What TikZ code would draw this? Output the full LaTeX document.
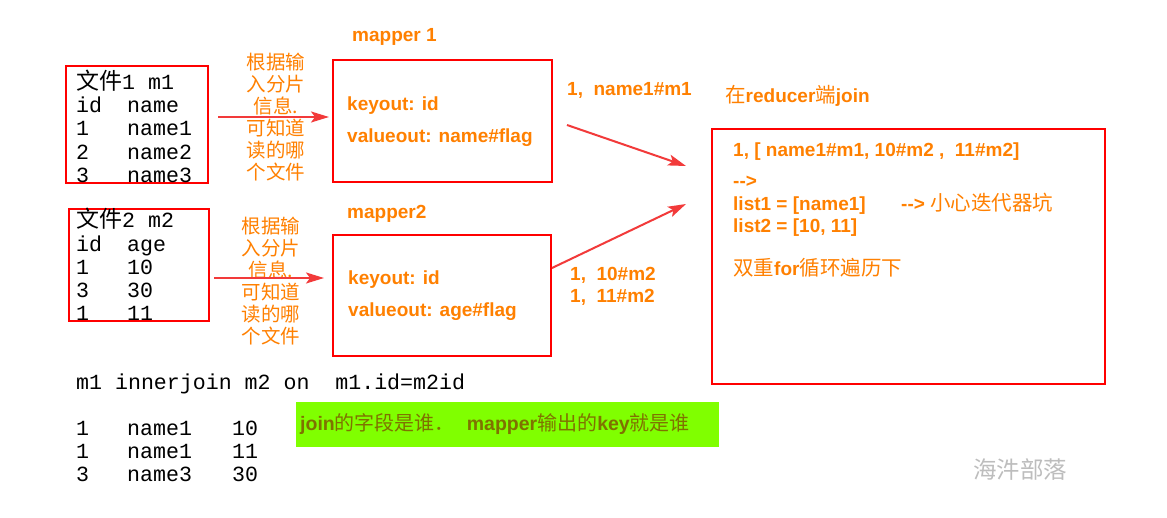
\documentclass[tikz,border=0pt]{standalone}
\usepackage{fontspec}
\setmainfont{Liberation Sans}
\newfontfamily\monof{Liberation Mono}
\newfontfamily\cjk{Noto Sans CJK SC}
\usetikzlibrary{arrows.meta}
\definecolor{boxred}{HTML}{FF0000}
\definecolor{arrred}{HTML}{F23A3A}
\definecolor{orng}{HTML}{FF8000}
\definecolor{limeg}{HTML}{80FF00}
\definecolor{oliv}{HTML}{7F7200}
\definecolor{wmgray}{HTML}{BDBDBD}
\newcommand\zhc[1]{{\cjk\mdseries\fontsize{20.5}{22}\selectfont #1}}
\newcommand\zhg[1]{{\cjk\mdseries\fontsize{20}{22}\selectfont #1}}
\newcommand\zhm[1]{{\cjk\fontsize{23}{23}\selectfont #1}}
\tikzset{
  redbox/.style={draw=boxred, line width=2pt},
  arr/.style={draw=arrred, line width=2pt, -{Stealth[length=18pt,width=11pt,inset=4pt]}},
  mono/.style={anchor=west, inner sep=0pt, text height=19pt, text depth=4pt, font=\monof\fontsize{21.6}{23}\selectfont},
  otext/.style={anchor=west, inner sep=0pt, text height=14pt, text depth=4pt, text=orng, font=\bfseries\fontsize{19}{22}\selectfont},
  zlabel/.style={anchor=north, inner sep=0pt, align=center, text=orng, font=\cjk\fontsize{19.5}{22}\selectfont},
}
\begin{document}
\begin{tikzpicture}[x=1pt,y=-1pt]
\useasboundingbox[fill=white] (0,0) rectangle (1167,518);
% boxes
\draw[redbox] (66,66) rectangle (208,183);
\draw[redbox] (69,209) rectangle (209,321);
\draw[redbox] (333,60) rectangle (552,182);
\draw[redbox] (333,235) rectangle (551,356);
\draw[redbox] (712,129) rectangle (1105,384);
\fill[limeg] (296,402) rectangle (719,447);
% file 1
\node[mono] (f1h) at (76,82) {\zhm{文件}1 m1};
\node[mono] (f1a) at (76,105) {id};
\node[mono] (f1b) at (127,105) {name};
\node[mono] (f1c) at (76,128) {1};
\node[mono] (f1d) at (127,128) {name1};
\node[mono] (f1e) at (76,152) {2};
\node[mono] (f1f) at (127,152) {name2};
\node[mono] (f1g) at (76,175) {3};
\node[mono] (f1i) at (127,175) {name3};
% file 2
\node[mono] (f2h) at (76,220) {\zhm{文件}2 m2};
\node[mono] (f2a) at (76,244) {id};
\node[mono] (f2b) at (127,244) {age};
\node[mono] (f2c) at (76,267) {1};
\node[mono] (f2d) at (127,267) {10};
\node[mono] (f2e) at (76,290) {3};
\node[mono] (f2f) at (127,290) {30};
\node[mono] (f2g) at (76,313) {1};
\node[mono] (f2i) at (127,313) {11};
% bottom
\node[mono] (q) at (76,382) {m1 innerjoin m2 on\ \ m1.id=m2id};
\node[mono] (r1a) at (76,428) {1};
\node[mono] (r1b) at (127,428) {name1};
\node[mono] (r1c) at (232,428) {10};
\node[mono] (r2a) at (76,451) {1};
\node[mono] (r2b) at (127,451) {name1};
\node[mono] (r2c) at (232,451) {11};
\node[mono] (r3a) at (76,474) {3};
\node[mono] (r3b) at (127,474) {name3};
\node[mono] (r3c) at (232,474) {30};
% chinese labels
\node[zlabel] (lab1) at (276,53) {根据输\\入分片\\信息.\\可知道\\读的哪\\个文件};
\node[zlabel] (lab2) at (271,217) {根据输\\入分片\\信息.\\可知道\\读的哪\\个文件};
% arrows file -> mapper
\coordinate (a1s) at (218,117);
\coordinate (a1e) at (329,117);
\coordinate (a2s) at (214,278);
\coordinate (a2e) at (324,278);
\draw[arr] (a1s) -- (a1e);
\draw[arr] (a2s) -- (a2e);
% mapper texts
\node[otext] (m1t) at (352,37) {mapper 1};
\node[otext] (m2t) at (347,214) {mapper2};
\node[otext] (k1) at (347,106) {keyout: id};
\node[otext] (v1) at (347,138) {valueout: name\#flag};
\node[otext] (k2) at (348,280) {keyout: id};
\node[otext] (v2) at (348,312) {valueout: age\#flag};
% mapper -> reducer
\coordinate (b1s) at (567,125);
\coordinate (b1e) at (686,166);
\coordinate (b2s) at (552,268);
\coordinate (b2e) at (686,204);
\draw[arr] (b1s) -- (b1e);
\draw[arr] (b2s) -- (b2e);
\node[otext] (o1) at (567,91) {1,\ \ name1\#m1};
\node[otext] (o2) at (570,276) {1,\ \ 10\#m2};
\node[otext] (o3) at (570,298) {1,\ \ 11\#m2};
% reducer
\node[otext] (rt) at (725,98) {\zhc{在}reducer\zhc{端}join};
\node[otext] (rl1) at (733,152) {1, [ name1\#m1, 10\#m2 ,\ \ 11\#m2]};
\node[otext] (rl2) at (733,183) {-{}->};
\node[otext] (rl3) at (733,206) {list1 = [name1]};
\node[otext] (rl4) at (901,206) {-{}-> \zhc{小心迭代器坑}};
\node[otext] (rl5) at (733,228) {list2 = [10, 11]};
\node[otext] (rl6) at (733,271) {\zhc{双重}for\zhc{循环遍历下}};
% green note
\node[otext, text=oliv, font=\bfseries\fontsize{19.5}{22}\selectfont] (g) at (300,425) {join\zhg{的字段是谁．}\hspace{12pt}mapper\zhg{输出的}key\zhg{就是谁}};
% watermark
\node[anchor=west, inner sep=0pt, text=wmgray, font=\cjk\fontsize{23.5}{24}\selectfont] (wm) at (973,470) {海汼部落};
\end{tikzpicture}
\end{document}
